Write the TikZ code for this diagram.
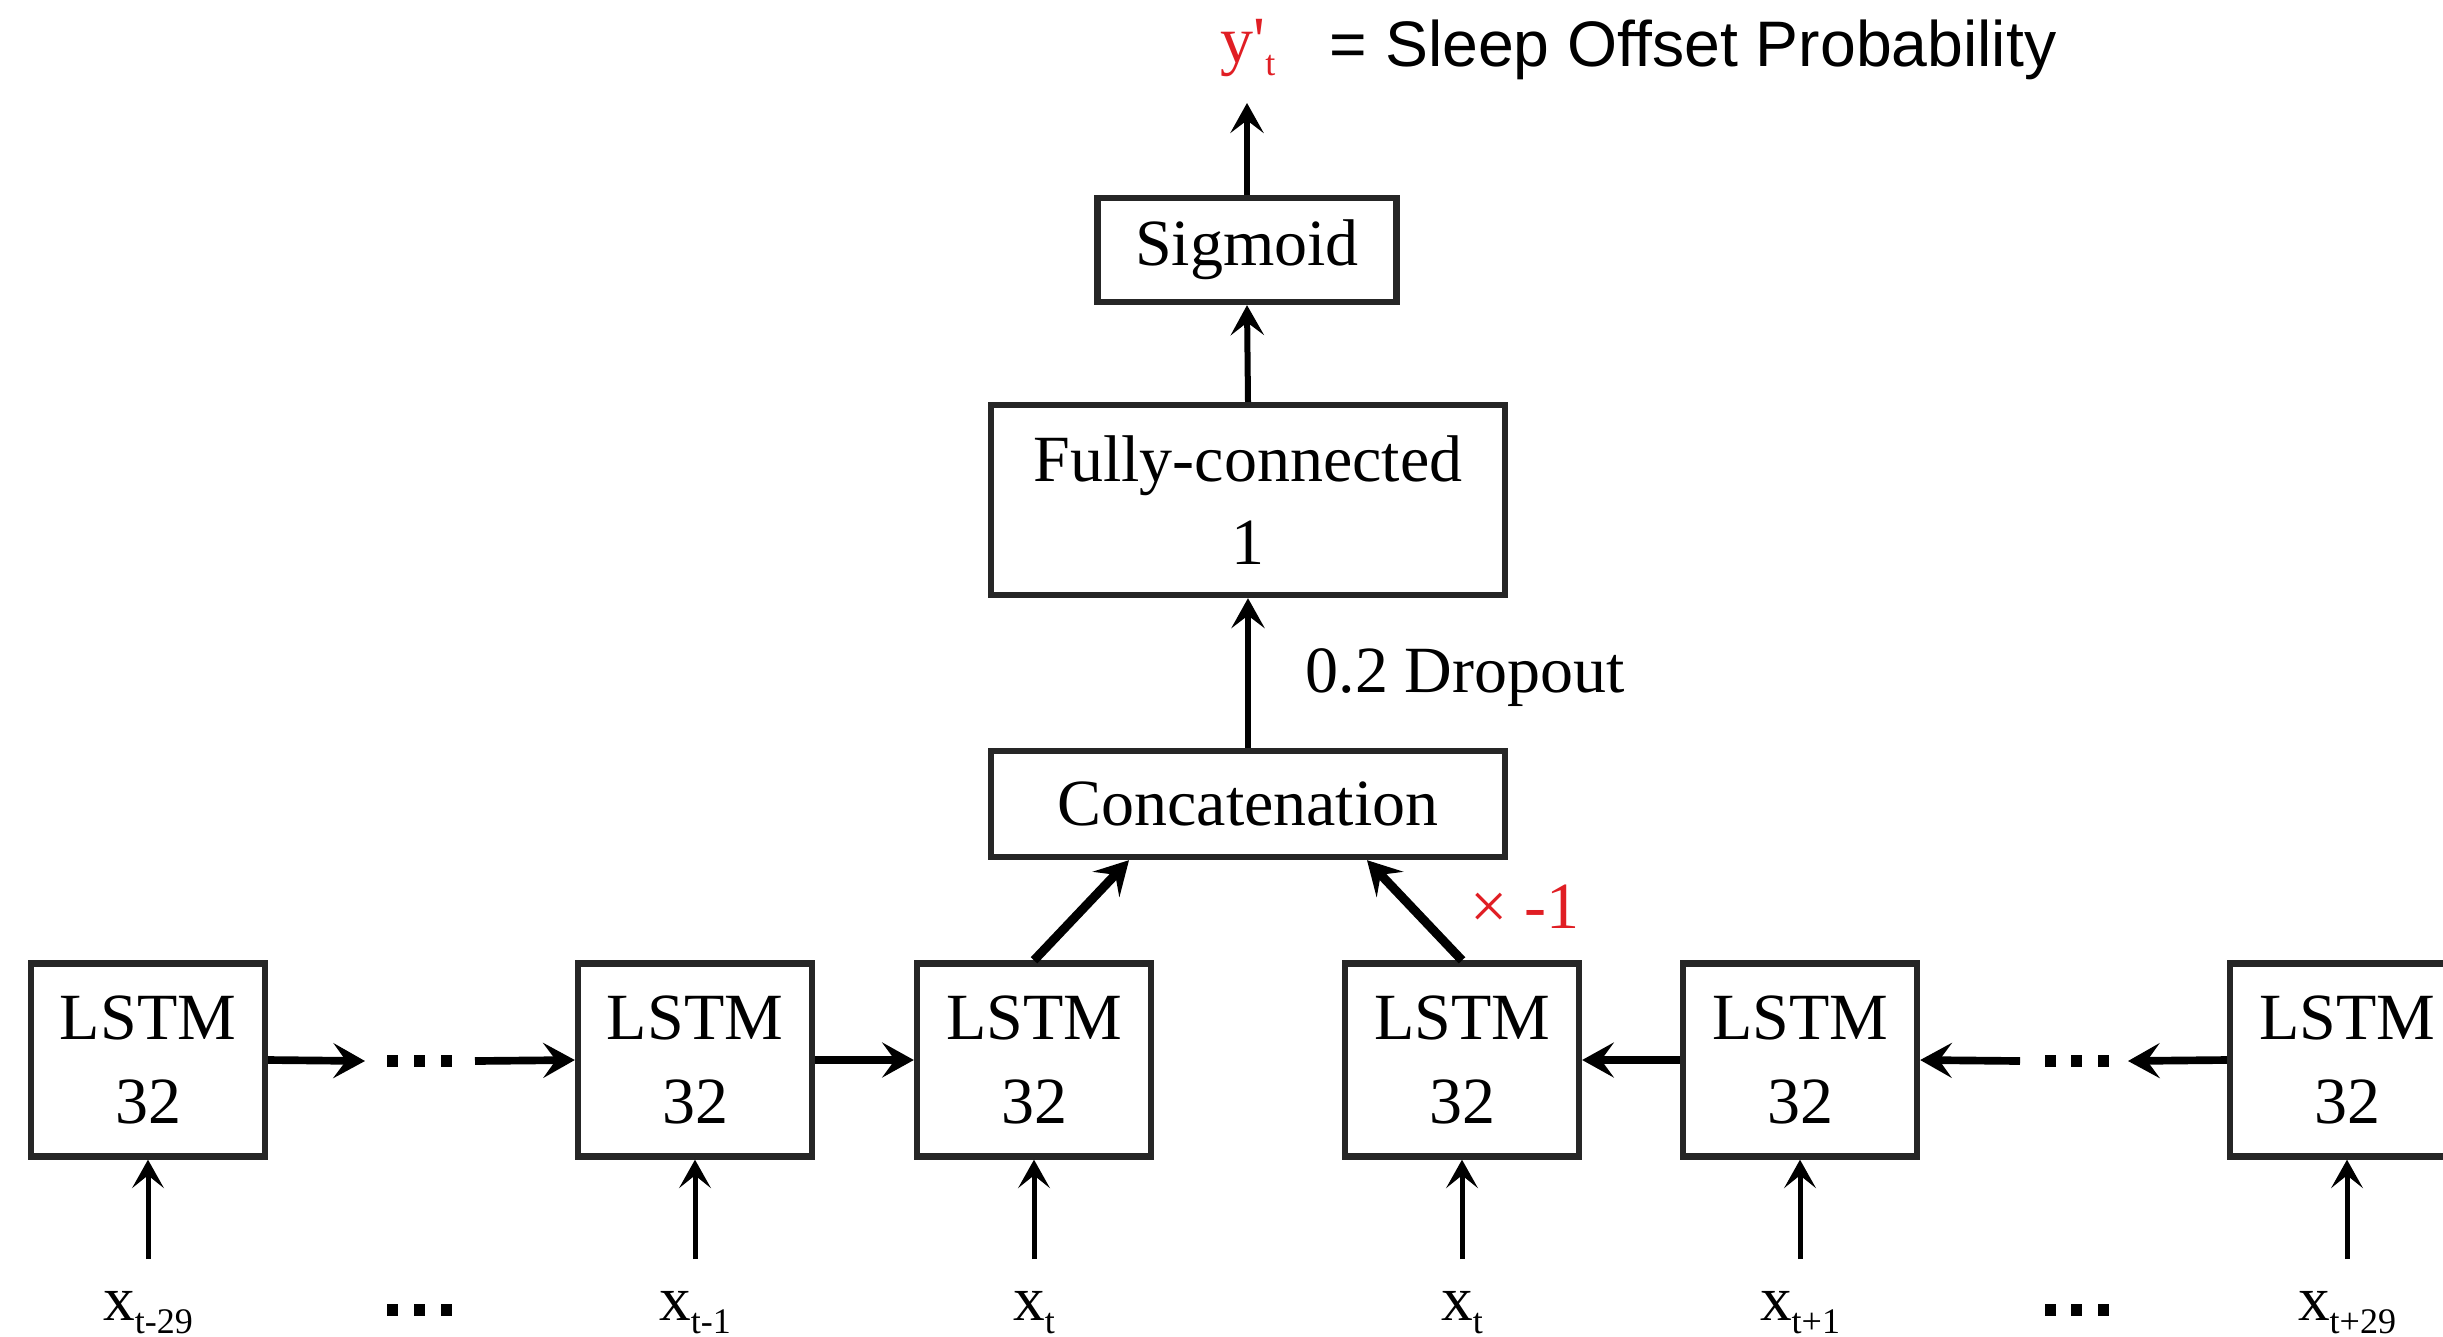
\documentclass[tikz,border=0pt]{standalone}
\usepackage{fontspec}
\setmainfont{Liberation Serif}
\newfontfamily\helv{Liberation Sans}
\usetikzlibrary{arrows.meta,calc}
\definecolor{myred}{RGB}{224,30,36}
\definecolor{boxline}{RGB}{38,38,38}
\newcommand\subsc[1]{\raisebox{-4pt}{\fontsize{10.8pt}{12pt}\selectfont #1}}
\begin{document}
\begin{tikzpicture}[x=0.3pt,y=-0.3pt,
  every node/.style={font=\fontsize{19.8pt}{25pt}\selectfont},
  blk/.style={draw=boxline,line width=1.9pt,fill=white,align=center,inner sep=0pt},
  lstm/.style={blk,minimum width=70.2pt,minimum height=57.9pt},
  xlab/.style={anchor=base,font=\fontsize{19pt}{23pt}\selectfont},
  inarrow/.style={line width=1.5pt,-{Stealth[length=8.5pt,width=9.5pt,inset=3.8pt]}},
  uparrow/.style={line width=1.8pt,-{Stealth[length=9pt,width=10pt,inset=3.8pt]}},
  sidearrow/.style={line width=2.3pt,-{Stealth[length=9.5pt,width=10.5pt,inset=3.8pt]}},
  diagarrow/.style={line width=2.7pt,-{Stealth[length=10pt,width=11pt,inset=4pt]}},
  sq/.style={rectangle,fill=black,minimum width=3.3pt,minimum height=3.5pt,inner sep=0pt}
]
\useasboundingbox (0,0) rectangle (2443,1336);
\clip (0,0) rectangle (2443,1336);

% upper blocks
\node[blk,minimum width=89.7pt,minimum height=31.2pt] (sig) at (1247,250) {Sigmoid};
\node[blk,minimum width=154.2pt,minimum height=57pt] (fc) at (1248,500) {Fully-connected\\1};
\node[blk,minimum width=154.2pt,minimum height=31.8pt] (cat) at (1248,804) {Concatenation};

% output label
\coordinate (ytip) at (1247,103);
\node[anchor=base,text=myred] (ylab) at (1248,62) {y\textquotesingle\subsc{t}};
\node[anchor=base west,font=\helv\fontsize{19.3pt}{23pt}\selectfont] (desc) at (1318,66) {= Sleep Offset Probability};

\draw[uparrow] (sig.north) -- (ytip);
\draw[uparrow] (fc.north) -- (sig.south);
\draw[uparrow] (cat.north) -- (fc.south);
\node[anchor=base west] (drop) at (1294,692) {0.2 Dropout};

% LSTM blocks
\foreach \i/\x in {1/148,2/695,3/1034,4/1462,5/1800,6/2347}{
  \node[lstm] (l\i) at (\x,1060) {LSTM\\32};
  \coordinate (in\i) at (\x,1259);
  \draw[inarrow] (in\i) -- (l\i.south);
}
\node[xlab] (x1) at (148,1320) {x\subsc{t-29}};
\node[xlab] (x2) at (695,1320) {x\subsc{t-1}};
\node[xlab] (x3) at (1034,1320) {x\subsc{t}};
\node[xlab] (x4) at (1462,1320) {x\subsc{t}};
\node[xlab] (x5) at (1800,1320) {x\subsc{t+1}};
\node[xlab] (x6) at (2347,1320) {x\subsc{t+29}};

% horizontal connections
\coordinate (h1a) at (365,1061);
\coordinate (h1b) at (475,1061);
\draw[sidearrow] (l1.east) -- (h1a);
\draw[sidearrow] (h1b) -- (l2.west);
\draw[sidearrow] (l2.east) -- (l3.west);
\draw[sidearrow] (l5.west) -- (l4.east);
\coordinate (h2a) at (2128,1061);
\coordinate (h2b) at (2020,1061);
\draw[sidearrow] (l6.west) -- (h2a);
\draw[sidearrow] (h2b) -- (l5.east);

% dots
\foreach \n/\x in {a/392,b/419,c/446}{
  \node[sq] (dl\n) at (\x,1061) {};
  \node[sq] (bl\n) at (\x,1310) {};
}
\foreach \n/\x in {a/2050,b/2076,c/2103}{
  \node[sq] (dr\n) at (\x,1061) {};
  \node[sq] (br\n) at (\x,1310) {};
}

% diagonal connections
\draw[diagarrow] (l3.north) -- ($(cat.south)+(-119,0)$);
\draw[diagarrow] (l4.north) -- ($(cat.south)+(119,0)$);
\node[anchor=base west,text=myred] (neg) at (1459,928) {× -1};
\end{tikzpicture}
\end{document}
